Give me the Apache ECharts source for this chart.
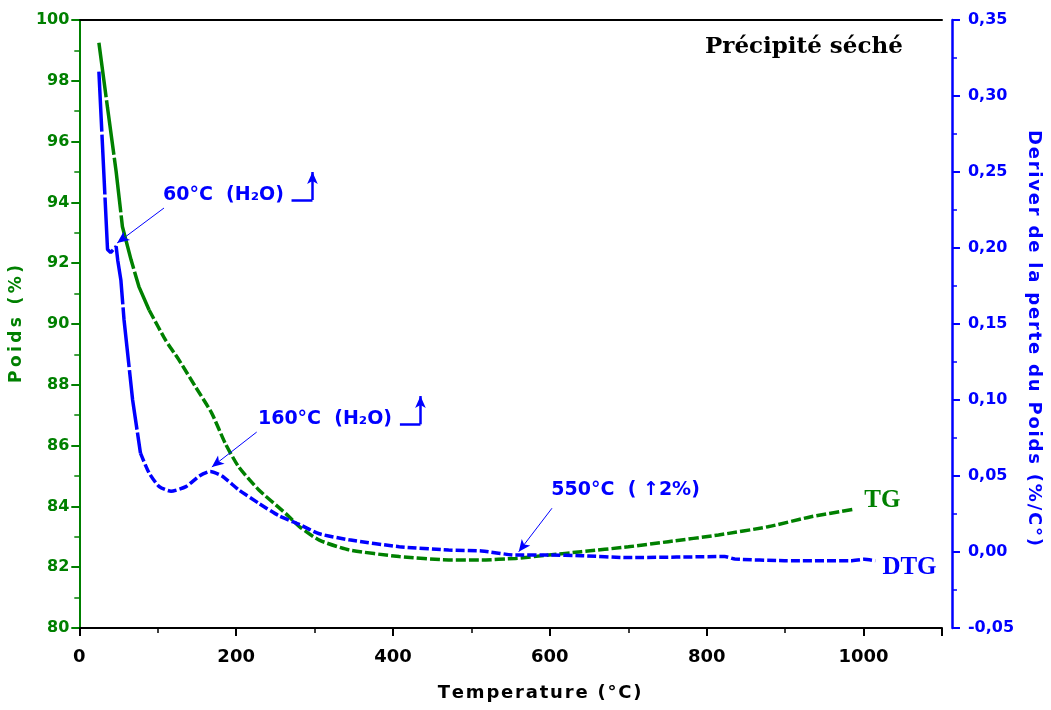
<!DOCTYPE html>
<html>
<head>
<meta charset="utf-8">
<style>
  html, body { margin: 0; padding: 0; background: #fff; }
  #main { width: 1051px; height: 710px; }
</style>
<script src="https://cdn.jsdelivr.net/npm/echarts@6.0.0/dist/echarts.min.js"></script>
</head>
<body>
<div id="main"></div>
<script>
// TG curve: temperature (°C) / weight (%)
var tgTemp = [25, 36, 47, 55, 66, 76, 89, 110, 127, 148, 169, 186, 203, 229, 263, 281, 306, 344, 408, 471, 513, 556, 599, 640, 700, 751, 815, 878, 933, 986];
var tgWeight = [99.25, 97.11, 95.01, 93.20, 92.11, 91.23, 90.46, 89.47, 88.82, 87.94, 87.06, 86.08, 85.31, 84.54, 83.77, 83.33, 82.89, 82.57, 82.35, 82.24, 82.24, 82.29, 82.40, 82.51, 82.67, 82.84, 83.06, 83.33, 83.66, 83.90];

// DTG curve: temperature (°C) / derivative (%/°C)
var dtgTemp = [25, 36, 40, 47, 49, 53, 57, 68, 78, 89, 102, 117, 136, 153, 167, 182, 203, 229, 254, 281, 306, 344, 408, 471, 513, 556, 599, 640, 700, 823, 836, 899, 984, 1001, 1015];
var dtgRate = [0.316, 0.199, 0.197, 0.201, 0.192, 0.179, 0.153, 0.100, 0.065, 0.052, 0.043, 0.040, 0.043, 0.050, 0.053, 0.050, 0.041, 0.032, 0.024, 0.018, 0.012, 0.008, 0.0035, 0.0013, 0.0007, -0.002, -0.002, -0.0024, -0.0037, -0.003, -0.0046, -0.0057, -0.0057, -0.0048, -0.0057];

// where the dash pattern changes (index of the point)
var tgSplit = 6;
var dtgSplit = 8;

// annotations, in data coordinates of the DTG axis
var notes = [
  { text: '60°C  (H₂O)', at: [106.7, 0.2349] },
  { text: '160°C  (H₂O)', at: [227.8, 0.0875] },
  { text: '550°C  ( ↑2%)', at: [601.9, 0.0405] }
];
var pointers = [
  [[108, 0.2263], [48.3, 0.2033]],
  [[226.2, 0.0789], [169, 0.0559]],
  [[602.7, 0.0288], [560.3, 0.0002]]
];
var brackets = [
  { y: 0.2316, from: 270.6, to: 297.3, top: 0.25 },
  { y: 0.0840, from: 408.8, to: 435.0, top: 0.1026 }
];

var GREEN = '#008000';
var BLUE = '#0000ff';
var SANS = 'DejaVu Sans';

function pairs(xs, ys, a, b) {
  var out = [];
  for (var i = a; i <= b; i++) out.push([xs[i], ys[i]]);
  return out;
}
// the axis titles are letter-spaced in the original
function spaced(s, gap) {
  return s.split('').join(gap);
}

var chart = echarts.init(document.getElementById('main'));

var markLines = [];
pointers.forEach(function (p) {
  markLines.push([
    { coord: p[0], symbol: 'none' },
    { coord: p[1], symbol: 'arrow', symbolSize: [8, 12] }
  ]);
});
brackets.forEach(function (b) {
  markLines.push([
    { coord: [b.from, b.y], symbol: 'none', lineStyle: { width: 2.5 } },
    { coord: [b.to, b.y], symbol: 'none' }
  ]);
  markLines.push([
    { coord: [b.to, b.y], symbol: 'none', lineStyle: { width: 2.5 } },
    { coord: [b.to, b.top], symbol: 'arrow', symbolSize: [8, 12] }
  ]);
});

var option = {
  animation: false,
  title: {
    text: 'Précipité séché',
    left: 700,
    top: 31,
    textStyle: { fontFamily: 'DejaVu Serif', fontWeight: 'bold', fontSize: 23, color: '#000' }
  },
  grid: { left: 79, right: 106, top: 20, bottom: 82 },
  xAxis: [
    {
      type: 'value',
      min: 0,
      max: 1100,
      interval: 200,
      name: spaced('Temperature (°C)', '\u200A'),
      nameLocation: 'middle',
      nameGap: 56,
      nameTextStyle: { fontFamily: SANS, fontWeight: 'bold', fontSize: 18, color: '#000', padding: [0, 0, 0, 58] },
      axisLine: { onZero: false, lineStyle: { color: '#000', width: 2 } },
      axisTick: { inside: false, length: 8, lineStyle: { color: '#000', width: 2 } },
      minorTick: { show: true, splitNumber: 2, length: 5, lineStyle: { color: '#000', width: 1.5 } },
      axisLabel: {
        margin: 20, fontFamily: SANS, fontWeight: 'bold', fontSize: 18, color: '#000',
        formatter: function (v) { return v > 1000 ? '' : String(v); }
      },
      splitLine: { show: false }
    },
    {
      type: 'value',
      position: 'top',
      min: 0,
      max: 1100,
      axisLine: { show: true, onZero: false, lineStyle: { color: '#000', width: 2 } },
      axisTick: { show: false },
      axisLabel: { show: false },
      splitLine: { show: false }
    }
  ],
  yAxis: [
    {
      type: 'value',
      min: 80,
      max: 100,
      interval: 2,
      name: spaced('Poids (%)', '\u2009'),
      nameLocation: 'middle',
      nameGap: 52,
      nameTextStyle: { fontFamily: SANS, fontWeight: 'bold', fontSize: 17, color: GREEN },
      axisLine: { show: true, onZero: false, lineStyle: { color: GREEN, width: 2 } },
      axisTick: { inside: false, length: 8, lineStyle: { color: GREEN, width: 2 } },
      minorTick: { show: true, splitNumber: 2, length: 5, lineStyle: { color: GREEN, width: 1.5 } },
      axisLabel: { margin: 10, fontFamily: SANS, fontWeight: 'bold', fontSize: 16, color: GREEN },
      splitLine: { show: false }
    },
    {
      type: 'value',
      position: 'right',
      offset: 10,
      min: -0.05,
      max: 0.35,
      interval: 0.05,
      name: spaced('Deriver de la perte du Poids (%/C°)', '\u200A'),
      nameLocation: 'middle',
      nameRotate: -90,
      nameGap: 71,
      nameTextStyle: { fontFamily: SANS, fontWeight: 'bold', fontSize: 18, color: BLUE, padding: [0, 0, 0, 28] },
      axisLine: { show: true, onZero: false, lineStyle: { color: BLUE, width: 2.5 } },
      axisTick: { inside: false, length: 8, lineStyle: { color: BLUE, width: 2 } },
      minorTick: { show: true, splitNumber: 2, length: 5, lineStyle: { color: BLUE, width: 1.5 } },
      axisLabel: {
        margin: 16, fontFamily: SANS, fontWeight: 'bold', fontSize: 16, color: BLUE,
        formatter: function (v) { return v.toFixed(2).replace('.', ','); }
      },
      splitLine: { show: false }
    }
  ],
  series: [
    {
      name: 'TG',
      type: 'line',
      yAxisIndex: 0,
      showSymbol: false,
      data: pairs(tgTemp, tgWeight, 0, tgSplit),
      lineStyle: { color: GREEN, width: 3.5, type: [55, 3] }
    },
    {
      name: 'TG',
      type: 'line',
      yAxisIndex: 0,
      showSymbol: false,
      smooth: 0.2,
      data: pairs(tgTemp, tgWeight, tgSplit, tgTemp.length - 1),
      lineStyle: { color: GREEN, width: 3.5, type: [10, 3] },
      markPoint: {
        symbol: 'circle',
        symbolSize: 0,
        silent: true,
        label: { show: true, position: 'right', distance: 0, formatter: '{b}', color: GREEN, fontFamily: 'Liberation Serif', fontWeight: 'bold', fontSize: 25 },
        data: [{ name: 'TG', coord: [1000.9, 84.18] }]
      }
    },
    {
      name: 'DTG',
      type: 'line',
      yAxisIndex: 1,
      showSymbol: false,
      data: pairs(dtgTemp, dtgRate, 0, dtgSplit),
      lineStyle: { color: BLUE, width: 3.5, type: [60, 3] }
    },
    {
      name: 'DTG',
      type: 'line',
      yAxisIndex: 1,
      showSymbol: false,
      smooth: 0.2,
      data: pairs(dtgTemp, dtgRate, dtgSplit, dtgTemp.length - 1),
      lineStyle: { color: BLUE, width: 3.5, type: [9, 3] },
      markPoint: {
        symbol: 'circle',
        symbolSize: 0,
        silent: true,
        label: { show: true, position: 'right', distance: 0, formatter: '{b}', color: BLUE, fontFamily: SANS, fontWeight: 'bold', fontSize: 19 },
        data: notes.map(function (n) { return { name: n.text, coord: n.at }; }).concat([
          { name: 'DTG', coord: [1024, -0.0102], label: { fontFamily: 'Liberation Serif', fontSize: 25 } }
        ])
      },
      markLine: {
        silent: true,
        label: { show: false },
        lineStyle: { color: BLUE, width: 1, type: 'solid' },
        data: markLines
      }
    }
  ]
};

chart.setOption(option);
</script>
</body>
</html>
